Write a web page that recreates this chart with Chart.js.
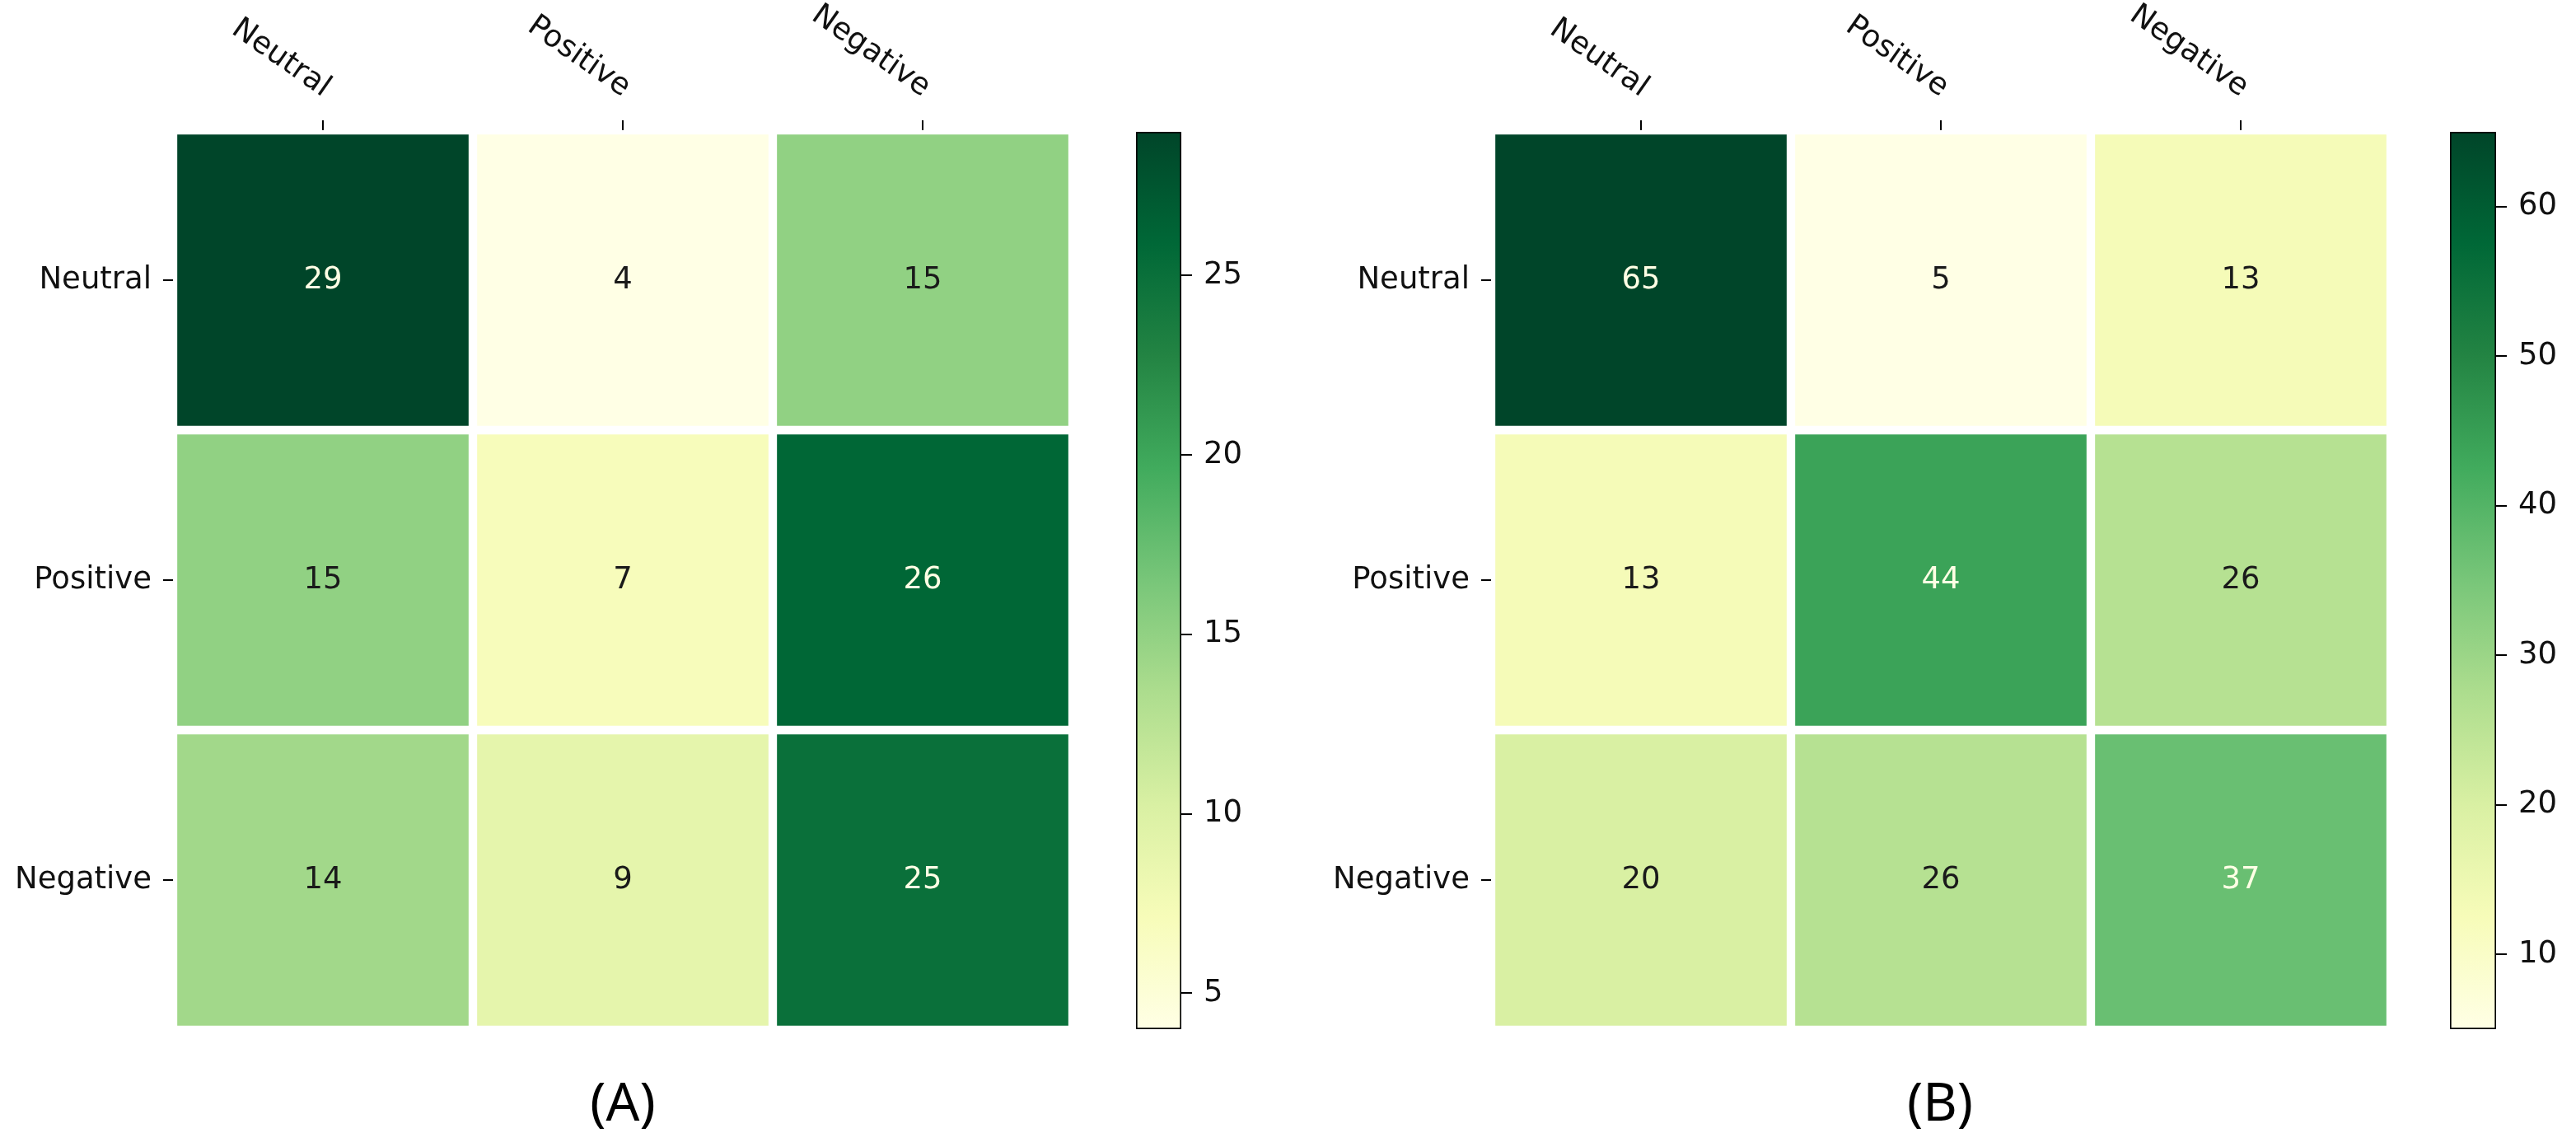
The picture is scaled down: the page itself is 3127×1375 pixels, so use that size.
<!DOCTYPE html>
<html>
<head>
<meta charset="utf-8">
<script src="https://cdn.jsdelivr.net/npm/chart.js@4.4.1/dist/chart.umd.min.js"></script>
<style>
   body { margin: 0; background: #fff; width: 3127px; height: 1375px; position: relative; overflow: hidden; }
   canvas { position: absolute; top: 0; }
   .cap { position: absolute; top: 1292px; width: 300px; line-height: 80px; text-align: center; font: 64px 'Noto Sans'; color: #000; }
</style>
</head>
<body>
<canvas id="heatA" width="1302" height="1280" style="left:0px"></canvas>
<canvas id="barA" width="154" height="1280" style="left:1360px"></canvas>
<canvas id="heatB" width="1302" height="1280" style="left:1600px"></canvas>
<canvas id="barB" width="155" height="1280" style="left:2955px"></canvas>
<div class="cap" style="left:606px">(A)</div>
<div class="cap" style="left:2205px">(B)</div>
<script>
const labels = ['Neutral', 'Positive', 'Negative'];

// rows of matrix (A)
const neutralA = [29, 4, 15];
const positiveA = [15, 7, 26];
const negativeA = [14, 9, 25];

// rows of matrix (B)
const neutralB = [65, 5, 13];
const positiveB = [13, 44, 26];
const negativeB = [20, 26, 37];

const ticksA = [5, 10, 15, 20, 25];
const ticksB = [10, 20, 30, 40, 50, 60];

const FONT = 'DejaVu Sans';
const ylgn = ['#ffffe5', '#f7fcb9', '#d9f0a3', '#addd8e', '#78c679', '#41ab5d', '#238443', '#006837', '#004529'];

const hex = (h) => [1, 3, 5].map((i) => parseInt(h.substr(i, 2), 16));

const colorAt = (t) => {
   t = Math.max(0, Math.min(1, t));
   const p = t * (ylgn.length - 1);
   const i = Math.min(Math.floor(p), ylgn.length - 2);
   const f = p - i;
   const a = hex(ylgn[i]);
   const b = hex(ylgn[i + 1]);
   const c = a.map((v, k) => Math.round(v + (b[k] - v) * f));
   return `rgb(${c[0]},${c[1]},${c[2]})`;
};

// numbers inside the cells
const cellText = {
   id: 'cellText',
   afterDatasetsDraw(chart) {
      const { ctx } = chart;
      const { vmin, vmax } = chart.options.plugins.cellText;
      const mid = (vmin + vmax) / 2;
      ctx.save();
      ctx.font = `37px '${FONT}'`;
      ctx.textAlign = 'center';
      ctx.textBaseline = 'middle';
      chart.data.datasets.forEach((ds, d) => {
         chart.getDatasetMeta(d).data.forEach((bar, i) => {
            const v = ds.values[i];
            ctx.fillStyle = v > mid ? '#ffffe5' : '#1a1a1a';
            ctx.fillText(String(v), bar.x, (bar.y + bar.base) / 2);
         });
      });
      ctx.restore();
   },
};

// slanted column names above the top ticks
const topLabels = {
   id: 'topLabels',
   afterDraw(chart) {
      const { ctx, chartArea } = chart;
      const xScale = chart.scales.x;
      ctx.save();
      ctx.font = `37px '${FONT}'`;
      ctx.fillStyle = '#111';
      ctx.textAlign = 'right';
      ctx.textBaseline = 'middle';
      chart.data.labels.forEach((lab, i) => {
         const x = xScale.getPixelForTick(i);
         ctx.save();
         ctx.translate(x + 5, chartArea.top - 48);
         ctx.rotate((35 * Math.PI) / 180);
         ctx.fillText(lab, 0, 0);
         ctx.restore();
      });
      ctx.restore();
   },
};

const heatmap = (id, rows) => {
   const all = rows.flat();
   const vmin = Math.min(...all);
   const vmax = Math.max(...all);
   const datasets = rows.map((row, r) => ({
      values: row,
      data: row.map(() => [r - 0.5, r + 0.5]),
      backgroundColor: row.map((v) => colorAt((v - vmin) / (vmax - vmin))),
      borderColor: '#ffffff',
      borderWidth: 5.5,
      borderSkipped: false,
      barPercentage: 1,
      categoryPercentage: 1,
      grouped: false,
   }));

   return new Chart(document.getElementById(id), {
      type: 'bar',
      data: { labels, datasets },
      plugins: [cellText, topLabels],
      options: {
         responsive: false,
         animation: false,
         devicePixelRatio: 1,
         layout: { padding: { left: 0, top: 146, right: 0, bottom: 30 } },
         plugins: {
            legend: { display: false },
            tooltip: { enabled: false },
            cellText: { vmin, vmax },
         },
         scales: {
            x: {
               position: 'top',
               offset: true,
               border: { display: false },
               grid: { offset: false, drawOnChartArea: false, tickLength: 12, color: '#000', lineWidth: 2 },
               ticks: { display: false },
               afterFit: (s) => { s.height = 12; },
            },
            y: {
               reverse: true,
               min: -0.5,
               max: 2.5,
               border: { display: false },
               grid: { drawOnChartArea: false, tickLength: 12, color: '#000', lineWidth: 2 },
               afterBuildTicks: (s) => { s.ticks = labels.map((_, i) => ({ value: i })); },
               ticks: {
                  font: { family: FONT, size: 37 },
                  color: '#111',
                  padding: 14,
                  callback: (v) => labels[v],
               },
               afterFit: (s) => { s.width = 210; s.paddingTop = 0; s.paddingBottom = 0; },
            },
         },
      },
   });
};

const colorbar = (id, rows, tickVals) => {
   const all = rows.flat();
   const vmin = Math.min(...all);
   const vmax = Math.max(...all);

   return new Chart(document.getElementById(id), {
      type: 'bar',
      data: {
         labels: [''],
         datasets: [
            {
               data: [[vmin, vmax]],
               backgroundColor: (c) => {
                  const area = c.chart.chartArea;
                  if (!area) return ylgn[0];
                  const g = c.chart.ctx.createLinearGradient(0, area.bottom, 0, area.top);
                  ylgn.forEach((col, i) => g.addColorStop(i / (ylgn.length - 1), col));
                  return g;
               },
               borderColor: '#000',
               borderWidth: 2,
               borderSkipped: false,
               barPercentage: 1,
               categoryPercentage: 1,
            },
         ],
      },
      options: {
         responsive: false,
         animation: false,
         devicePixelRatio: 1,
         layout: { padding: { left: 19, top: 160, right: 0, bottom: 31 } },
         plugins: { legend: { display: false }, tooltip: { enabled: false } },
         scales: {
            x: { display: false },
            y: {
               position: 'right',
               min: vmin,
               max: vmax,
               border: { display: false },
               grid: { drawOnChartArea: false, tickLength: 13, color: '#000', lineWidth: 2 },
               afterBuildTicks: (s) => { s.ticks = tickVals.map((v) => ({ value: v })); },
               ticks: { font: { family: FONT, size: 37 }, color: '#111', padding: 14 },
               afterFit: (s) => { s.width = 80; s.paddingTop = 0; s.paddingBottom = 0; },
            },
         },
      },
   });
};

heatmap('heatA', [neutralA, positiveA, negativeA]);
colorbar('barA', [neutralA, positiveA, negativeA], ticksA);
heatmap('heatB', [neutralB, positiveB, negativeB]);
colorbar('barB', [neutralB, positiveB, negativeB], ticksB);
</script>
</body>
</html>
